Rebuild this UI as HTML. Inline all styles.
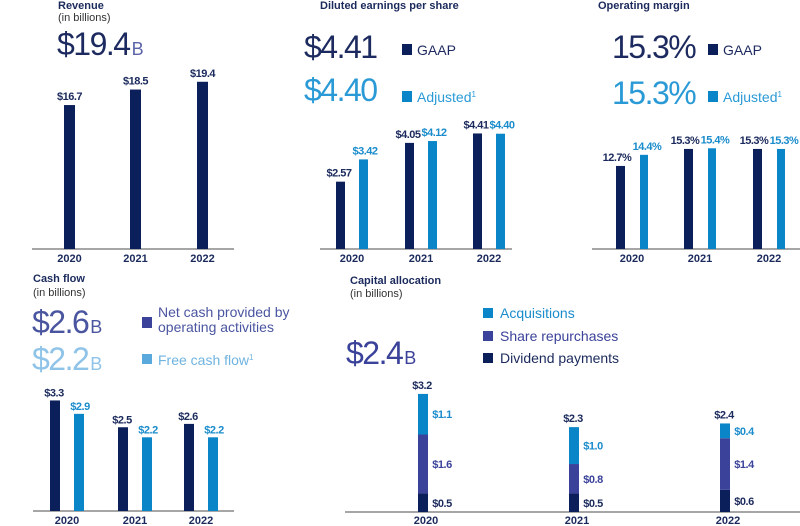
<!DOCTYPE html>
<html><head><meta charset="utf-8"><style>
html,body{margin:0;padding:0;background:#fff;}
svg{display:block;font-family:"Liberation Sans",sans-serif;}
.t{font-weight:bold;font-size:11px;fill:#1b2a5c;}
.s{font-size:11px;fill:#333;}
.big{font-size:32px;letter-spacing:-1.5px;}
.lbl{font-weight:bold;font-size:11px;text-anchor:middle;letter-spacing:-0.5px;}
.yr{font-weight:bold;font-size:11px;fill:#1b2a5c;text-anchor:middle;}
.leg{font-size:14px;}
</style></head><body>
<svg id="c" width="800" height="526" viewBox="0 0 800 526">
<!-- Revenue -->
<text class="t" x="58" y="9">Revenue</text>
<text class="s" x="58" y="21">(in billions)</text>
<text class="big" x="57" y="55" fill="#1d2a5f">$19.4<tspan font-size="18" fill="#5a63a8" dx="2">B</tspan></text>
<!-- EPS -->
<text class="t" x="320" y="9">Diluted earnings per share</text>
<text class="big" x="304" y="58" fill="#1d2a5f">$4.41</text>
<text class="big" x="304" y="101" fill="#2a9ad6">$4.40</text>
<rect x="402" y="44" width="10" height="11" fill="#0b1f5a"/>
<text class="leg" x="417" y="55" fill="#1d2a5f">GAAP</text>
<rect x="402" y="91" width="10" height="11" fill="#0a86c8"/>
<text class="leg" x="417" y="102" fill="#2a9ad6">Adjusted<tspan font-size="8" dy="-5">1</tspan></text>
<!-- Operating margin -->
<text class="t" x="598" y="9">Operating margin</text>
<text class="big" x="612" y="58" fill="#1d2a5f">15.3%</text>
<text class="big" x="612" y="104" fill="#2a9ad6">15.3%</text>
<rect x="708" y="44" width="10" height="11" fill="#0b1f5a"/>
<text class="leg" x="723" y="55" fill="#1d2a5f">GAAP</text>
<rect x="708" y="91" width="10" height="11" fill="#0a86c8"/>
<text class="leg" x="723" y="102" fill="#2a9ad6">Adjusted<tspan font-size="8" dy="-5">1</tspan></text>
<!-- Cash flow -->
<text class="t" x="33" y="282">Cash flow</text>
<text class="s" x="33" y="296">(in billions)</text>
<text class="big" x="32" y="333" fill="#4a55a0">$2.6<tspan font-size="18" dx="2">B</tspan></text>
<text class="big" x="32" y="370" fill="#8fc3e8">$2.2<tspan font-size="18" dx="2">B</tspan></text>
<rect x="142" y="317" width="10" height="11" fill="#3a4299"/>
<text class="leg" x="158" y="317" fill="#4a55a0">Net cash provided by</text>
<text class="leg" x="158" y="332" fill="#4a55a0">operating activities</text>
<rect x="142" y="354" width="10" height="10" fill="#5aa9dd"/>
<text class="leg" x="158" y="365" fill="#6fb3e0">Free cash flow<tspan font-size="8" dy="-5">1</tspan></text>
<!-- Capital allocation -->
<text class="t" x="350" y="284">Capital  allocation</text>
<text class="s" x="350" y="297">(in billions)</text>
<text class="big" x="346" y="364" fill="#3a4299">$2.4<tspan font-size="18" dx="2">B</tspan></text>
<rect x="483" y="308" width="10" height="10" fill="#0a86c8"/>
<text class="leg" x="500" y="318" fill="#1a8ccc">Acquisitions</text>
<rect x="483" y="331" width="10" height="10" fill="#3a4299"/>
<text class="leg" x="500" y="341" fill="#3a4299">Share repurchases</text>
<rect x="483" y="353" width="10" height="10" fill="#0b1f5a"/>
<text class="leg" x="500" y="363" fill="#1b2a5c">Dividend payments</text>
<g id="marks"></g>
</svg>
<script>
const years = ["2020","2021","2022"];
const revenue = [16.7, 18.5, 19.4];
const epsGaap = [2.57, 4.05, 4.41];
const epsAdj = [3.42, 4.12, 4.40];
const marginGaap = [12.7, 15.3, 15.3];
const marginAdj = [14.4, 15.4, 15.3];
const cashNet = [3.3, 2.5, 2.6];
const cashFcf = [2.9, 2.2, 2.2];
const capDividends = [0.5, 0.5, 0.6];
const capRepurchases = [1.6, 0.8, 1.4];
const capAcquisitions = [1.1, 1.0, 0.4];
const capTotals = [3.2, 2.3, 2.4];

const NS = "http://www.w3.org/2000/svg";
const g = document.getElementById("marks");
const NAVY = "#0b1f5a", BLUE = "#0a86c8", PURPLE = "#3a4299";
function mk(tag, attrs, text) {
  const e = document.createElementNS(NS, tag);
  for (const k in attrs) e.setAttribute(k, attrs[k]);
  if (text !== undefined) e.textContent = text;
  g.appendChild(e);
  return e;
}
function axis(x1, x2, y, name) {
  const e = mk("line", {x1: x1, x2: x2, y1: y, y2: y, stroke: "#888", "stroke-width": 1.5});
  
  
}
function bar(x, base, v, scale, w, color, name) {
  const h = v * scale;
  const e = mk("rect", {x: x, y: base - h, width: w, height: h, fill: color});
  
  
  return base - h;
}
function label(x, y, txt, color, name) {
  const e = mk("text", {x: x, y: y, class: "lbl", fill: color}, txt);
  
  
}
function yearLabel(x, y, txt, name) {
  const e = mk("text", {x: x, y: y, class: "yr"}, txt);
  
  
}

// Revenue
const revBase = 249, revScale = 8.62, revX = [64, 130, 197];
axis(32, 234, revBase, "revenue-x-axis");
years.forEach((yr, i) => {
  const top = bar(revX[i], revBase, revenue[i], revScale, 11, NAVY, "revenue-bar-" + yr);
  label(revX[i] + 5.5, top - 5, "$" + revenue[i].toFixed(1), "#1b2a5c", "revenue-value-" + yr);
  yearLabel(revX[i] + 5.5, 262, yr, "revenue-year-" + yr);
});

// EPS
const epsBase = 249, epsScale = 26.2, epsX = [336, 405, 473];
axis(320, 512, epsBase, "eps-x-axis");
years.forEach((yr, i) => {
  const t1 = bar(epsX[i], epsBase, epsGaap[i], epsScale, 9, NAVY, "eps-gaap-bar-" + yr);
  label(epsX[i] + 3, t1 - 5, "$" + epsGaap[i].toFixed(2), "#1b2a5c", "eps-gaap-value-" + yr);
  const t2 = bar(epsX[i] + 23, epsBase, epsAdj[i], epsScale, 9, BLUE, "eps-adjusted-bar-" + yr);
  label(epsX[i] + 29, t2 - 5, "$" + epsAdj[i].toFixed(2), "#1a8ccc", "eps-adjusted-value-" + yr);
  yearLabel(epsX[i] + 16, 262, yr, "eps-year-" + yr);
});

// Operating margin
const mBase = 249, mScale = 6.54, mX = [616, 684, 753];
axis(592, 800, mBase, "margin-x-axis");
years.forEach((yr, i) => {
  const t1 = bar(mX[i], mBase, marginGaap[i], mScale, 9, NAVY, "margin-gaap-bar-" + yr);
  label(mX[i] + 1, t1 - 5, marginGaap[i].toFixed(1) + "%", "#1b2a5c", "margin-gaap-value-" + yr);
  const t2 = bar(mX[i] + 24, mBase, marginAdj[i], mScale, 8, BLUE, "margin-adjusted-bar-" + yr);
  label(mX[i] + 31, t2 - 5, marginAdj[i].toFixed(1) + "%", "#1a8ccc", "margin-adjusted-value-" + yr);
  yearLabel(mX[i] + 16, 262, yr, "margin-year-" + yr);
});

// Cash flow
const cBase = 511, cScale = 33.5, cX = [50, 118, 184];
axis(33, 234, cBase, "cashflow-x-axis");
years.forEach((yr, i) => {
  const t1 = bar(cX[i], cBase, cashNet[i], cScale, 10, NAVY, "cashflow-net-bar-" + yr);
  label(cX[i] + 4, t1 - 4, "$" + cashNet[i].toFixed(1), "#1b2a5c", "cashflow-net-value-" + yr);
  const t2 = bar(cX[i] + 24, cBase, cashFcf[i], cScale, 10, BLUE, "cashflow-fcf-bar-" + yr);
  label(cX[i] + 30, t2 - 4, "$" + cashFcf[i].toFixed(1), "#1a8ccc", "cashflow-fcf-value-" + yr);
  yearLabel(cX[i] + 17, 524, yr, "cashflow-year-" + yr);
});

// Capital allocation (stacked)
const kBase = 512, kScale = 36.9, kX = [418, 569, 720];
axis(345, 800, kBase, "capital-x-axis");
years.forEach((yr, i) => {
  let base = kBase;
  const segs = [[capDividends[i], NAVY, "#1b2a5c", "dividends"], [capRepurchases[i], PURPLE, "#3a4299", "repurchases"], [capAcquisitions[i], BLUE, "#1a8ccc", "acquisitions"]];
  segs.forEach(s => {
    const top = bar(kX[i], base, s[0], kScale, 10, s[1], "capital-" + s[3] + "-bar-" + yr);
    label(kX[i] + 24, (base + top) / 2 + 4, "$" + s[0].toFixed(1), s[2], "capital-" + s[3] + "-value-" + yr);
    base = top;
  });
  label(kX[i] + 4, kBase - capTotals[i] * kScale - 5, "$" + capTotals[i].toFixed(1), "#1b2a5c", "capital-total-value-" + yr);
  yearLabel(kX[i] + 8, 524, yr, "capital-year-" + yr);
});
</script>
</body></html>
